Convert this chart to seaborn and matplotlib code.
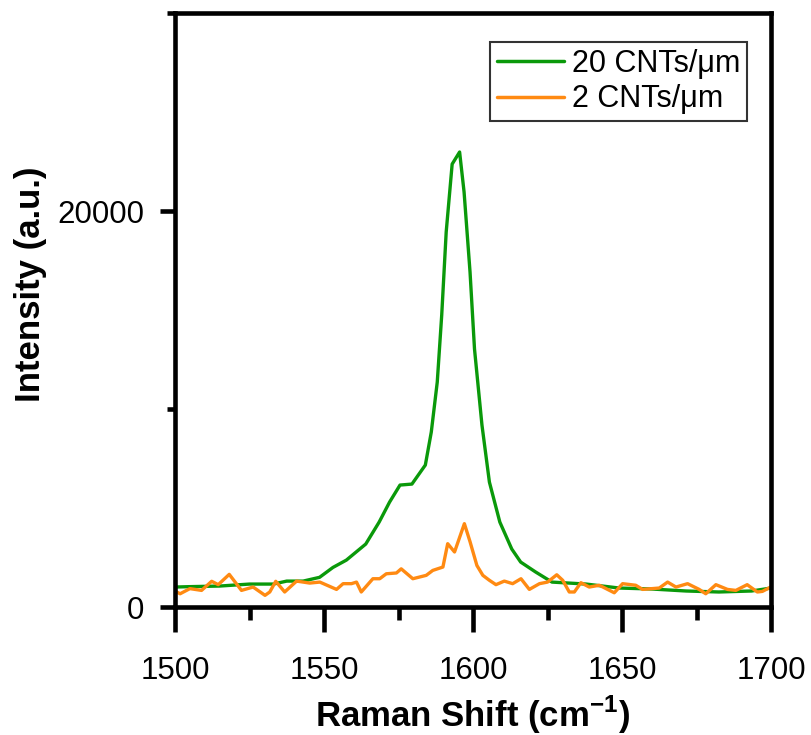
import numpy as np
import pandas as pd
import seaborn as sns
import matplotlib.pyplot as plt
from matplotlib.ticker import MultipleLocator

# Raman spectra
shift_20 = [1500, 1505, 1515, 1525, 1533, 1537.5, 1543, 1548.5, 1553, 1557.5,
            1564, 1568.5, 1572, 1575.5, 1579.5, 1584, 1586, 1588, 1589.5, 1591,
            1593, 1595.5, 1597, 1599, 1600.5, 1603, 1605.5, 1609, 1613, 1616,
            1621, 1626.5, 1638, 1649, 1660, 1671.5, 1682.5, 1693.5, 1700]
intensity_20 = [1010, 1030, 1060, 1160, 1160, 1310, 1310, 1500, 2000, 2370,
                3180, 4290, 5300, 6160, 6210, 7170, 8840, 11360, 14750, 18940,
                22370, 22980, 20960, 16920, 13030, 9190, 6310, 4290, 2930, 2270,
                1770, 1260, 1160, 960, 910, 810, 760, 810, 960]

shift_2 = [1500.6, 1501.7, 1505, 1508.9, 1512.3, 1514.5, 1518.2, 1522.3, 1526.2, 1530.2,
           1531.8, 1533.8, 1536.8, 1540.8, 1545.2, 1548.6, 1554.2, 1556.4, 1559.2, 1560.9,
           1562.5, 1566.4, 1568.7, 1570.9, 1574.3, 1575.9, 1579.8, 1584.3, 1586.5, 1589.9,
           1591.5, 1593.8, 1597.1, 1599, 1601.3, 1603.3, 1605.5, 1607.7, 1610.5, 1613.3,
           1616.1, 1618.9, 1622.3, 1625, 1628.1, 1630.1, 1632.3, 1634, 1636.2, 1639,
           1642.4, 1647.4, 1650.2, 1654.6, 1656.9, 1662.5, 1665.3, 1668.1, 1672, 1675.9,
           1678.1, 1681.5, 1685.4, 1688.2, 1692, 1695.4, 1697.1, 1699.9]
intensity_2 = [760, 670, 930, 840, 1300, 1130, 1650, 840, 1010, 590,
               760, 1300, 760, 1310, 1210, 1260, 890, 1180, 1180, 1260,
               760, 1430, 1430, 1680, 1720, 1930, 1430, 1600, 1850, 2020,
               3200, 2780, 4210, 3300, 2100, 1600, 1350, 1130, 1310, 1180,
               1430, 890, 1180, 1260, 1630, 1350, 760, 760, 1230, 1010,
               1100, 720, 1180, 1100, 890, 960, 1260, 1010, 1180, 890,
               670, 1130, 890, 840, 1130, 760, 790, 1010]

labels = ['20 CNTs/\u03bcm', '2 CNTs/\u03bcm']
colors = ['#0a990a', '#ff8a12']

df = pd.concat([
    pd.DataFrame({'shift': shift_20, 'intensity': intensity_20, 'sample': labels[0]}),
    pd.DataFrame({'shift': shift_2, 'intensity': intensity_2, 'sample': labels[1]}),
])

sns.set_style('ticks')
plt.rcParams['font.family'] = ['Liberation Sans', 'DejaVu Sans']
plt.rcParams['mathtext.fontset'] = 'custom'
plt.rcParams['mathtext.bf'] = 'Liberation Sans:bold'
plt.rcParams['mathtext.rm'] = 'Liberation Sans'
for key in ['text.color', 'axes.labelcolor', 'xtick.color', 'ytick.color', 'axes.edgecolor']:
    plt.rcParams[key] = 'black'

fig = plt.figure(figsize=(8.11, 7.35), dpi=100)
ax = fig.add_axes([0.2158, 0.1741, 0.7349, 0.8082])

sns.lineplot(data=df, x='shift', y='intensity', hue='sample', palette=colors,
             estimator=None, sort=False, linewidth=2.4, ax=ax)

ax.set_xlim(1500, 1700)
ax.set_ylim(0, 30000)
ax.xaxis.set_major_locator(MultipleLocator(50))
ax.xaxis.set_minor_locator(MultipleLocator(25))
ax.yaxis.set_major_locator(MultipleLocator(20000))
ax.yaxis.set_minor_locator(MultipleLocator(10000))

for s in ax.spines.values():
    s.set_linewidth(3.3)
ax.tick_params(axis='x', which='major', length=18, width=3.3, labelsize=22.5, pad=17)
ax.tick_params(axis='x', which='minor', length=9, width=3.3)
ax.tick_params(axis='y', which='major', length=11, width=3.3, labelsize=22.5, pad=11)
ax.tick_params(axis='y', which='minor', length=6, width=3.3)

ax.set_xlabel(r'Raman Shift (cm$^{\mathbf{-1}}$)', fontsize=25, fontweight='bold', labelpad=6)
ax.set_ylabel('Intensity (a.u.)', fontsize=25, fontweight='bold')
ax.yaxis.set_label_coords(-0.215, 0.544)

leg = ax.legend(loc='upper right', bbox_to_anchor=(0.96, 0.951), fontsize=22,
                frameon=True, fancybox=False, edgecolor='black', handlelength=2.2,
                handletextpad=0.26, borderpad=0.22, labelspacing=0.18, borderaxespad=0)
leg.get_frame().set_linewidth(1.5)
for line in leg.get_lines():
    line.set_linewidth(2.5)

fig.savefig('out.png', dpi=100)
